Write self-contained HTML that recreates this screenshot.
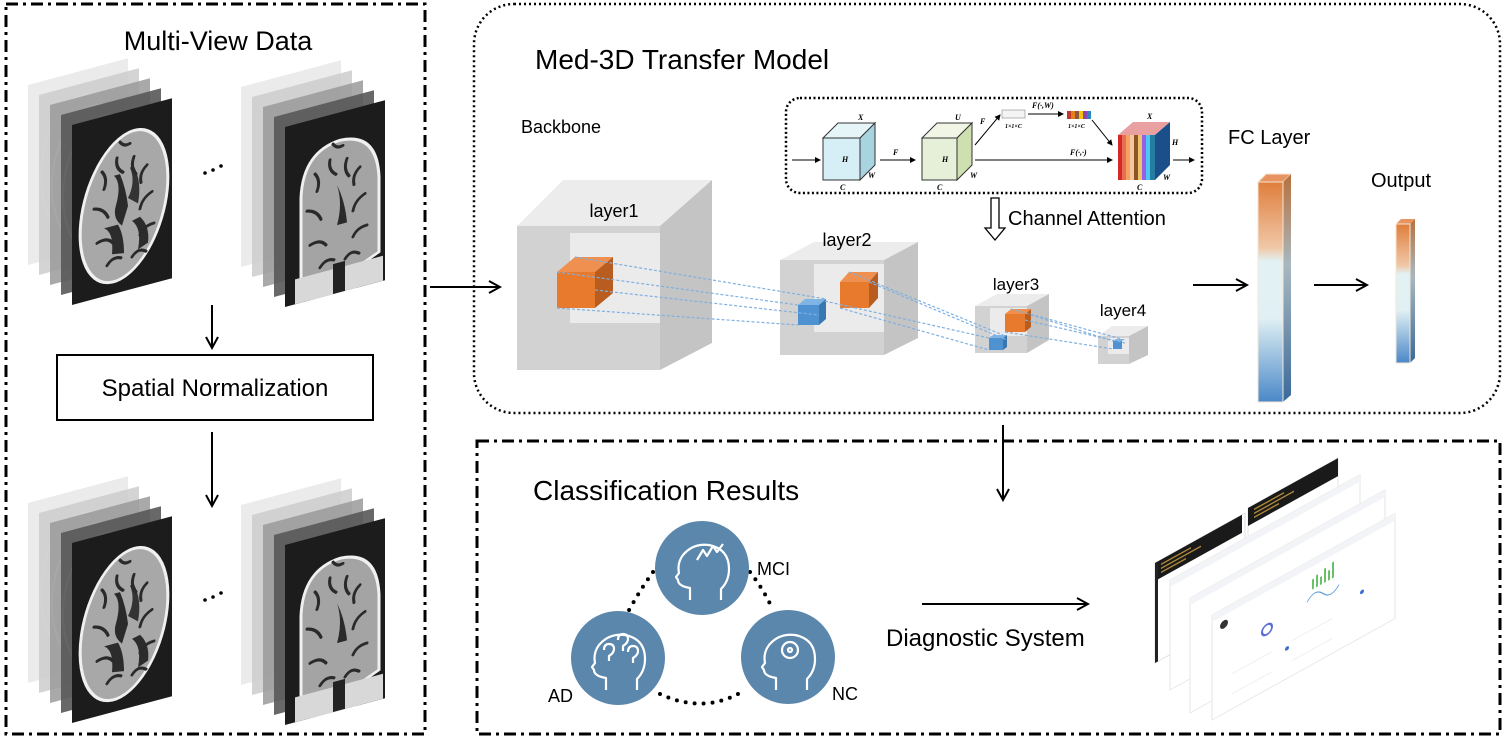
<!DOCTYPE html>
<html><head><meta charset="utf-8"><style>
html,body{margin:0;padding:0;background:#fff;}
svg{display:block;font-family:"Liberation Sans",Arial,sans-serif;}
</style></head><body>
<svg width="1505" height="739" viewBox="0 0 1505 739" xmlns="http://www.w3.org/2000/svg">
<defs>
<marker id="ah" markerWidth="14" markerHeight="14" refX="12" refY="7" orient="auto" markerUnits="userSpaceOnUse">
<path d="M1,1 L12,7 L1,13" fill="none" stroke="#000" stroke-width="2"/></marker>
<marker id="sa" markerWidth="6" markerHeight="6" refX="5" refY="3" orient="auto" markerUnits="userSpaceOnUse">
<path d="M0,0 L6,3 L0,6z" fill="#000"/></marker>
<linearGradient id="fc" x1="0" y1="0" x2="0" y2="1">
<stop offset="0" stop-color="#e07e3c"/><stop offset="0.3" stop-color="#f0c8a8"/><stop offset="0.36" stop-color="#e2f2f4"/><stop offset="0.62" stop-color="#e0f0f4"/><stop offset="1" stop-color="#4a88c8"/></linearGradient>
<linearGradient id="fcs" x1="0" y1="0" x2="0" y2="1">
<stop offset="0" stop-color="#b8703c"/><stop offset="0.4" stop-color="#a8b8c0"/><stop offset="1" stop-color="#3a6a9a"/></linearGradient>
<clipPath id="slc"><rect x="0" y="0" width="100" height="180"/></clipPath>
<g id="gyri" fill="none" stroke="#2a2a2a" stroke-width="3" stroke-linecap="round">
  <path d="M30,55 q6,8 2,18 M45,45 q-2,10 6,16 M62,48 q-4,10 2,18 M75,60 q-8,6 -6,16"/>
  <path d="M22,90 q10,2 14,12 M80,88 q-10,4 -12,14 M25,125 q10,-4 16,4 M82,120 q-10,0 -14,8"/>
  <path d="M35,150 q6,-8 14,-4 M60,148 q6,-8 14,-2 M48,30 q4,6 10,4"/>
</g>
<g id="stackA">
 <g transform="translate(-44,-40) skewY(-15)"><rect width="100" height="180" fill="#e8e8e8" opacity="0.85"/><ellipse cx="55" cy="95" rx="42" ry="70" fill="none" stroke="#f6f6f6" stroke-width="2"/></g>
 <g transform="translate(-33,-30) skewY(-15)"><rect width="100" height="180" fill="#cdcdcd" opacity="0.85"/><ellipse cx="55" cy="95" rx="42" ry="70" fill="none" stroke="#eee" stroke-width="2"/></g>
 <g transform="translate(-22,-20) skewY(-15)"><rect width="100" height="180" fill="#9a9a9a" opacity="0.85"/><ellipse cx="55" cy="95" rx="42" ry="70" fill="none" stroke="#ddd" stroke-width="2"/></g>
 <g transform="translate(-11,-10) skewY(-15)"><rect width="100" height="180" fill="#585858" opacity="0.9"/><ellipse cx="55" cy="95" rx="42" ry="70" fill="none" stroke="#bbb" stroke-width="2"/></g>
 <g transform="skewY(-15)"><rect width="100" height="180" fill="#1c1c1c"/>
  <g clip-path="url(#slc)">
  <ellipse cx="52" cy="95" rx="42" ry="74" transform="rotate(12 52 95)" fill="#a8a8a8" stroke="#f0f0f0" stroke-width="3"/>
  <path d="M42,62 q8,10 2,30 q-4,12 6,22 l6,-18 q-2,-18 -8,-34z" fill="#2a2a2a"/>
  <path d="M58,58 q6,16 -2,30 l10,8 q4,-20 -4,-38z" fill="#333"/>
  <path d="M32,112 q10,6 8,28 l12,2 q0,-18 -6,-30z" fill="#2c2c2c"/>
  <path d="M60,112 q10,10 6,30 l10,-4 q2,-16 -8,-28z" fill="#2c2c2c"/>
  <use href="#gyri"/>
  </g></g>
</g>
<g id="stackB">
 <g transform="translate(-44,-40) skewY(-15)"><rect width="100" height="180" fill="#e8e8e8" opacity="0.85"/></g>
 <g transform="translate(-33,-30) skewY(-15)"><rect width="100" height="180" fill="#cdcdcd" opacity="0.85"/></g>
 <g transform="translate(-22,-20) skewY(-15)"><rect width="100" height="180" fill="#9a9a9a" opacity="0.85"/></g>
 <g transform="translate(-11,-10) skewY(-15)"><rect width="100" height="180" fill="#585858" opacity="0.9"/></g>
 <g transform="skewY(-15)"><rect width="100" height="180" fill="#1c1c1c"/>
  <g clip-path="url(#slc)">
  <path d="M16,175 L16,75 Q18,30 55,28 Q92,30 94,75 L94,150 L80,156 L70,180 L30,180z" fill="#a4a4a4" stroke="#f0f0f0" stroke-width="3"/>
  <rect x="10" y="155" width="88" height="25" fill="#d8d8d8"/>
  <path d="M52,72 q6,20 0,40 l10,0 q-2,-22 -10,-40z" fill="#2a2a2a"/>
  <use href="#gyri"/>
  <rect x="48" y="150" width="12" height="30" fill="#222"/>
  </g></g>
</g>
</defs>

<!-- Left box -->
<rect x="6" y="4" width="419" height="730" fill="none" stroke="#000" stroke-width="3" stroke-dasharray="12 5 3 5"/>
<text x="218" y="50" font-size="27" text-anchor="middle">Multi-View Data</text>
<use href="#stackA" transform="translate(72,125)"/>
<use href="#stackB" transform="translate(285,127)"/>
<circle cx="205" cy="173" r="1.8"/><circle cx="213" cy="170" r="1.8"/><circle cx="221" cy="166" r="1.8"/>
<line x1="212" y1="305" x2="212" y2="348" stroke="#000" stroke-width="2" marker-end="url(#ah)"/>
<rect x="57" y="355" width="316" height="65" fill="#fff" stroke="#000" stroke-width="2"/>
<text x="215" y="396" font-size="24" text-anchor="middle">Spatial Normalization</text>
<line x1="212" y1="432" x2="212" y2="506" stroke="#000" stroke-width="2" marker-end="url(#ah)"/>
<use href="#stackA" transform="translate(72,543)"/>
<use href="#stackB" transform="translate(285,545)"/>
<circle cx="205" cy="600" r="1.8"/><circle cx="213" cy="597" r="1.8"/><circle cx="221" cy="593" r="1.8"/>

<line x1="430" y1="287" x2="500" y2="287" stroke="#000" stroke-width="2" marker-end="url(#ah)"/>

<!-- Med-3D box -->
<rect x="474" y="4" width="1026" height="409" rx="40" fill="none" stroke="#000" stroke-width="2.5" stroke-dasharray="2 3"/>
<text x="535" y="69" font-size="28">Med-3D Transfer Model</text>
<text x="521" y="133" font-size="18">Backbone</text>

<!-- channel attention box -->
<rect x="786" y="98" width="416" height="95" rx="14" fill="none" stroke="#000" stroke-width="2.5" stroke-dasharray="2 2.5"/>
<g font-family="Liberation Serif,serif" font-style="italic" font-size="8" font-weight="bold">
 <line x1="792" y1="160" x2="820" y2="160" stroke="#000" marker-end="url(#sa)"/>
 <polygon points="823,138 838,123 875,123 860,138" fill="#e6f5f8" stroke="#333"/>
 <polygon points="860,138 875,123 875,165 860,180" fill="#a8d4e0" stroke="#333"/>
 <rect x="823" y="138" width="37" height="42" fill="#d6eef5" stroke="#333"/>
 <text x="858" y="120">X</text><text x="842" y="162">H</text><text x="868" y="178">W</text><text x="840" y="190">C</text>
 <line x1="880" y1="160" x2="915" y2="160" stroke="#000" marker-end="url(#sa)"/><text x="893" y="155">F</text>
 <polygon points="922,138 937,123 972,123 957,138" fill="#f0f5e6" stroke="#333"/>
 <polygon points="957,138 972,123 972,165 957,180" fill="#cfe0b0" stroke="#333"/>
 <rect x="922" y="138" width="35" height="42" fill="#e6f0d8" stroke="#333"/>
 <text x="955" y="120">U</text><text x="942" y="162">H</text><text x="970" y="178">W</text><text x="937" y="190">C</text>
 <line x1="975" y1="145" x2="1000" y2="115" stroke="#000" marker-end="url(#sa)"/><text x="980" y="124">F</text>
 <rect x="1002" y="110" width="23" height="8" fill="#f4f4f4" stroke="#999" stroke-width="0.7"/>
 <text x="1005" y="128" font-size="6">1×1×C</text>
 <line x1="1028" y1="114" x2="1063" y2="114" stroke="#000" marker-end="url(#sa)"/><text x="1032" y="108">F(·,W)</text>
 <g><rect x="1067" y="111" width="4" height="8" fill="#c0392b"/><rect x="1071" y="111" width="4" height="8" fill="#e67e22"/><rect x="1075" y="111" width="4" height="8" fill="#8e5a3c"/><rect x="1079" y="111" width="4" height="8" fill="#f1c40f"/><rect x="1083" y="111" width="4" height="8" fill="#8e44ad"/><rect x="1087" y="111" width="4" height="8" fill="#2e86c1"/></g>
 <text x="1068" y="128" font-size="6">1×1×C</text>
 <line x1="1092" y1="120" x2="1112" y2="145" stroke="#000" marker-end="url(#sa)"/>
 <line x1="975" y1="160" x2="1112" y2="160" stroke="#000" marker-end="url(#sa)"/><text x="1070" y="155">F(·,·)</text>
 <polygon points="1118,135 1133,122 1170,122 1155,135" fill="#e8a0a0"/>
 <polygon points="1155,135 1170,122 1170,165 1155,180" fill="#1a4f8a"/>
 <g>
 <rect x="1118" y="135" width="4" height="45" fill="#d62828"/><rect x="1122" y="135" width="4" height="45" fill="#e76f51"/><rect x="1126" y="135" width="4" height="45" fill="#f4a261"/><rect x="1130" y="135" width="4" height="45" fill="#f7c59f"/><rect x="1134" y="135" width="4" height="45" fill="#8d5524"/><rect x="1138" y="135" width="4" height="45" fill="#e9c46a"/><rect x="1142" y="135" width="4" height="45" fill="#9b5de5"/><rect x="1146" y="135" width="4" height="45" fill="#4cc9f0"/><rect x="1150" y="135" width="5" height="45" fill="#277da1"/>
 </g>
 <text x="1147" y="119">X</text><text x="1172" y="145">H</text><text x="1163" y="180">W</text><text x="1137" y="190">C</text>
 <line x1="1173" y1="160" x2="1194" y2="160" stroke="#000" marker-end="url(#sa)"/>
</g>
<path d="M991,198 h8 v30 h6 l-10,12 l-10,-12 h6z" fill="#fff" stroke="#000" stroke-width="1.3"/>
<text x="1008" y="225" font-size="20">Channel Attention</text>

<!-- layer1 -->
<polygon points="517,226 563,180 712,180 660,226" fill="#ececec"/>
<polygon points="660,226 712,180 712,343 660,370" fill="#c4c4c4"/>
<rect x="517" y="226" width="143" height="144" fill="#d2d2d2"/>
<rect x="570" y="233" width="90" height="90" fill="#ebebeb"/>
<text x="614" y="217" font-size="18" text-anchor="middle">layer1</text>
<!-- layer2 -->
<polygon points="780,260 814,242 918,242 884,260" fill="#ececec"/>
<polygon points="884,260 918,242 918,338 884,355" fill="#c4c4c4"/>
<rect x="780" y="260" width="104" height="95" fill="#d2d2d2"/>
<rect x="814" y="264" width="70" height="68" fill="#ebebeb"/>
<text x="847" y="246" font-size="18" text-anchor="middle">layer2</text>
<!-- layer3 -->
<polygon points="975,306 997,294 1049,294 1027,306" fill="#ececec"/>
<polygon points="1027,306 1049,294 1049,340 1027,353" fill="#c4c4c4"/>
<rect x="975" y="306" width="52" height="47" fill="#d2d2d2"/>
<rect x="990" y="308" width="37" height="28" fill="#ebebeb"/>
<text x="1016" y="290" font-size="17" text-anchor="middle">layer3</text>
<!-- layer4 -->
<polygon points="1098,336 1112,326 1148,326 1129,336" fill="#ececec"/>
<polygon points="1129,336 1148,326 1148,355 1129,364" fill="#c4c4c4"/>
<rect x="1098" y="336" width="31" height="28" fill="#d2d2d2"/>
<rect x="1108" y="338" width="21" height="16" fill="#ebebeb"/>
<text x="1123" y="316" font-size="17" text-anchor="middle">layer4</text>

<!-- orange / blue cubes -->
<g>
 <polygon points="557,272 575,257 613,257 595,272" fill="#f09050"/>
 <polygon points="595,272 613,257 613,293 595,308" fill="#b85c20"/>
 <rect x="557" y="272" width="38" height="36" fill="#e87a2e"/>
 <polygon points="840,282 849,272 878,272 869,282" fill="#f09050"/>
 <polygon points="869,282 878,272 878,298 869,308" fill="#b85c20"/>
 <rect x="840" y="282" width="29" height="26" fill="#e87a2e"/>
 <polygon points="798,305 805,299 826,299 819,305" fill="#7fb4e4"/>
 <polygon points="819,305 826,299 826,319 819,325" fill="#3a76b0"/>
 <rect x="798" y="305" width="21" height="20" fill="#4f92d2"/>
 <polygon points="1005,314 1011,309 1031,309 1025,314" fill="#f09050"/>
 <polygon points="1025,314 1031,309 1031,327 1025,332" fill="#b85c20"/>
 <rect x="1005" y="314" width="20" height="18" fill="#e87a2e"/>
 <polygon points="989,338 993,335 1007,335 1003,338" fill="#7fb4e4"/>
 <polygon points="1003,338 1007,335 1007,347 1003,350" fill="#3a76b0"/>
 <rect x="989" y="338" width="14" height="12" fill="#4f92d2"/>
 <polygon points="1113,341 1116,339 1125,339 1122,341" fill="#7fb4e4"/>
 <rect x="1113" y="341" width="9" height="8" fill="#4f92d2"/>
</g>
<g stroke="#7fb0e0" stroke-width="1.2" stroke-dasharray="3 2" fill="none">
 <line x1="575" y1="257" x2="826" y2="299"/><line x1="557" y1="272" x2="798" y2="305"/>
 <line x1="595" y1="290" x2="819" y2="315"/><line x1="557" y1="308" x2="798" y2="325"/>
 <line x1="849" y1="272" x2="1003" y2="335"/><line x1="869" y1="282" x2="1007" y2="340"/>
 <line x1="840" y1="308" x2="989" y2="350"/><line x1="820" y1="300" x2="989" y2="338"/>
 <line x1="1011" y1="309" x2="1122" y2="339"/><line x1="1025" y1="320" x2="1125" y2="343"/>
 <line x1="1005" y1="332" x2="1113" y2="349"/><line x1="1031" y1="315" x2="1113" y2="341"/>
</g>

<!-- FC layer -->
<text x="1228" y="144" font-size="20">FC Layer</text>
<line x1="1193" y1="285" x2="1247" y2="285" stroke="#000" stroke-width="2" marker-end="url(#ah)"/>
<polygon points="1258,182 1266,174 1291,174 1283,182" fill="#e89460" stroke="#f4e6d4"/>
<polygon points="1283,182 1291,174 1291,395 1283,402" fill="url(#fcs)"/>
<rect x="1258" y="182" width="25" height="220" fill="url(#fc)" stroke="#f4e6d4"/>
<line x1="1314" y1="285" x2="1367" y2="285" stroke="#000" stroke-width="2" marker-end="url(#ah)"/>
<text x="1371" y="187" font-size="20">Output</text>
<polygon points="1396,224 1401,219 1415,219 1410,224" fill="#e89460"/>
<polygon points="1410,224 1415,219 1415,358 1410,363" fill="url(#fcs)"/>
<rect x="1396" y="224" width="14" height="139" fill="url(#fc)" stroke="#f4e6d4"/>

<line x1="1003" y1="425" x2="1003" y2="500" stroke="#000" stroke-width="2" marker-end="url(#ah)"/>

<!-- Bottom box -->
<rect x="477" y="441" width="1023" height="293" fill="none" stroke="#000" stroke-width="3" stroke-dasharray="12 5 3 5"/>
<text x="533" y="500" font-size="28">Classification Results</text>
<g fill="none" stroke="#000" stroke-width="4" stroke-dasharray="0 9" stroke-linecap="round">
 <path d="M653,572 Q640,590 628,612"/>
 <path d="M750,572 Q764,590 773,610"/>
 <path d="M660,694 Q705,715 745,690"/>
</g>
<g fill="#5b87ad"><circle cx="702" cy="568" r="47"/><circle cx="618" cy="658" r="47"/><circle cx="788" cy="657" r="47"/></g>
<g fill="none" stroke="#fff" stroke-width="2.2" stroke-linejoin="round">
 <path d="M690,600 l0,-12 q-12,-2 -12,-8 l-2,-3 l3,-4 q-2,-10 4,-18 q10,-12 26,-10 q20,4 20,24 q0,12 -8,20 l0,11"/>
 <path d="M697,560 l6,-10 l4,6 l6,-10 l4,6 l6,-8"/>
 <path d="M606,690 l0,-12 q-12,-2 -12,-8 l-2,-3 l3,-4 q-2,-10 4,-18 q10,-12 26,-10 q20,4 20,24 q0,12 -8,20 l0,11"/>
 <path d="M604,650 q0,-6 5,-6 q5,0 5,5 q0,4 -5,7 l0,5 M618,640 q0,-6 5,-6 q5,0 5,5 q0,4 -5,7 l0,5 M628,652 q0,-6 5,-6 q5,0 5,5 q0,4 -5,7 l0,5"/>
 <path d="M776,690 l0,-12 q-12,-2 -12,-8 l-2,-3 l3,-4 q-2,-10 4,-18 q10,-12 26,-10 q20,4 20,24 q0,12 -8,20 l0,11"/>
 <circle cx="790" cy="650" r="8"/><circle cx="790" cy="650" r="2"/>
</g>
<text x="757" y="575" font-size="18">MCI</text>
<text x="548" y="702" font-size="18">AD</text>
<text x="832" y="700" font-size="18">NC</text>
<line x1="922" y1="604" x2="1088" y2="604" stroke="#000" stroke-width="2" marker-end="url(#ah)"/>
<text x="886" y="646" font-size="24">Diagnostic System</text>

<!-- dashboard screenshots -->
<g transform="translate(1248,508) skewY(-29)">
 <rect width="90" height="90" fill="#fff" stroke="#e6e6e6"/>
 <rect width="90" height="18" fill="#1a1a1a"/>
 <g fill="#b08a3a"><rect x="6" y="4" width="30" height="1.5"/><rect x="6" y="8" width="40" height="1.5"/><rect x="6" y="12" width="25" height="1.5"/></g>
</g>
<g transform="translate(1155,563) skewY(-29)">
 <rect width="90" height="100" fill="#fff" stroke="#ddd"/>
 <rect width="87" height="18" fill="#1a1a1a"/>
 <g fill="#b08a3a"><rect x="6" y="4" width="30" height="1.5"/><rect x="6" y="8" width="40" height="1.5"/><rect x="6" y="12" width="25" height="1.5"/></g>
 <rect width="3" height="100" fill="#222"/>
</g>
<g transform="translate(1170,580) skewY(-29)"><rect width="190" height="110" fill="#fff" stroke="#e6e6e6"/><rect width="190" height="7" fill="#f3f4f8"/></g>
<g transform="translate(1190,598) skewY(-29)"><rect width="195" height="115" fill="#fff" stroke="#e6e6e6"/><rect width="195" height="7" fill="#f3f4f8"/>
 <path d="M60,40 q8,-8 16,0 t16,0 t16,0" stroke="#5b9bd5" fill="none"/>
</g>
<g transform="translate(1212,615) skewY(-29)"><rect width="183" height="105" fill="#fff" stroke="#e6e6e6"/><rect width="183" height="7" fill="#f3f4f8"/>
 <circle cx="12" cy="16" r="4" fill="#333"/>
 <circle cx="55" cy="45" r="5" fill="none" stroke="#5b6fd5" stroke-width="2"/>
 <path d="M95,40 q8,-10 16,0 t16,0" stroke="#5b9bd5" fill="none"/>
 <g fill="#6abf69"><rect x="100" y="20" width="2" height="10"/><rect x="104" y="18" width="2" height="12"/><rect x="108" y="22" width="2" height="8"/><rect x="112" y="16" width="2" height="14"/><rect x="116" y="20" width="2" height="10"/><rect x="120" y="14" width="2" height="16"/></g>
 <g stroke="#eee"><line x1="20" y1="70" x2="60" y2="70"/><line x1="80" y1="70" x2="120" y2="70"/><line x1="20" y1="90" x2="60" y2="90"/><line x1="80" y1="90" x2="120" y2="90"/></g>
 <circle cx="75" cy="75" r="2" fill="#3a6fd0"/><circle cx="150" cy="60" r="2" fill="#3a6fd0"/>
</g>
</svg>
</body></html>
